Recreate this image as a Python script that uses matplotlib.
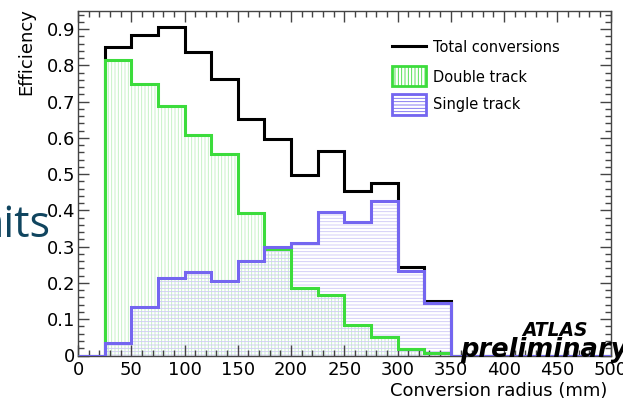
import matplotlib
matplotlib.use("Agg")
import matplotlib.pyplot as plt
from matplotlib.patches import Rectangle
from matplotlib.lines import Line2D
from matplotlib.ticker import MultipleLocator, FuncFormatter
import numpy as np

# binning of the conversion radius (mm)
edges = np.arange(0, 525, 25)

# efficiencies per radius bin
total = [0.0, 0.85, 0.884, 0.905, 0.836, 0.763, 0.653, 0.598, 0.497, 0.563,
         0.453, 0.475, 0.243, 0.151, 0.0, 0.0, 0.0, 0.0, 0.0, 0.0]
double_trk = [0.0, 0.816, 0.749, 0.689, 0.607, 0.555, 0.393, 0.295, 0.185, 0.166,
              0.084, 0.052, 0.018, 0.006, 0.0, 0.0, 0.0, 0.0, 0.0, 0.0]
single_trk = [0.0, 0.034, 0.133, 0.215, 0.229, 0.206, 0.261, 0.299, 0.311, 0.396,
              0.368, 0.425, 0.233, 0.145, 0.0, 0.0, 0.0, 0.0, 0.0, 0.0]

green = "#3cdc3c"
green_h = "#bff0bf"
blue = "#7466f0"
blue_h = "#cdc6f6"

W, H = 623, 401
plt.rcParams["font.family"] = "DejaVu Sans"
plt.rcParams["hatch.linewidth"] = 0.6

fig = plt.figure(figsize=(W / 100, H / 100), dpi=100)
ax = fig.add_axes([78 / W, 45.5 / H, 532.5 / W, 344.5 / H])

# hatched fills
ax.stairs(double_trk, edges, fill=True, facecolor="none", edgecolor=green_h,
          hatch="|||||", linewidth=0, zorder=1)
ax.stairs(single_trk, edges, fill=True, facecolor="none", edgecolor=blue_h,
          hatch="-----", linewidth=0, zorder=1)

# outlines
ax.stairs(total, edges, color="black", linewidth=2.2, zorder=3)
ax.stairs(double_trk, edges, color=green, linewidth=2.2, zorder=4)
ax.stairs(single_trk, edges, color=blue, linewidth=2.2, zorder=5)

ax.set_xlim(0, 500)
ax.set_ylim(0, 0.95)
ax.xaxis.set_major_locator(MultipleLocator(50))
ax.xaxis.set_minor_locator(MultipleLocator(10))
ax.yaxis.set_major_locator(MultipleLocator(0.1))
ax.yaxis.set_minor_locator(MultipleLocator(0.02))
ax.yaxis.set_major_formatter(FuncFormatter(lambda v, p: "0" if abs(v) < 1e-9 else f"{v:.1f}"))

ax.tick_params(which="both", direction="in", top=True, right=True,
               labelsize=13, color="#444444", width=1.0)
ax.tick_params(which="major", length=8)
ax.tick_params(which="minor", length=4)
ax.tick_params(axis="y", pad=2)
ax.tick_params(axis="x", pad=4)
for s in ax.spines.values():
    s.set_color("#444444")
    s.set_linewidth(1.0)

# axis titles
fig.text(26 / W, 1 - 8 / H, "Efficiency", rotation=90, ha="center", va="top", fontsize=13)
fig.text(607 / W, 5 / H, "Conversion radius (mm)", ha="right", va="baseline", fontsize=13)

# legend
def px(x, y):
    return x / W, 1 - y / H

lx0, lx1 = 392, 426
fig.add_artist(Line2D([lx0 / W, lx1 / W], [1 - 46 / H] * 2, color="black", lw=2.2))
fig.add_artist(Rectangle(px(lx0, 86), (lx1 - lx0) / W, 20 / H, facecolor="none",
                         edgecolor=green, hatch="|||||", lw=2))
fig.add_artist(Rectangle(px(lx0, 115), (lx1 - lx0) / W, 21 / H, facecolor="none",
                         edgecolor=blue, hatch="-----", lw=2))
fig.text(*px(433, 47), "Total conversions", ha="left", va="center", fontsize=10.5)
fig.text(*px(433, 77), "Double track", ha="left", va="center", fontsize=10.5)
fig.text(*px(433, 104), "Single track", ha="left", va="center", fontsize=10.5)

# experiment label
fig.text(*px(588, 336), "ATLAS", ha="right", va="baseline", fontsize=13.5,
         fontweight="bold", fontstyle="italic", zorder=10)
fig.text(*px(460, 357), "preliminary", ha="left", va="baseline", fontsize=18.5,
         fontweight="bold", fontstyle="italic", zorder=10)

# leftover slide title fragment
fig.text(*px(50, 237), "nits", ha="right", va="baseline", fontsize=31,
         family="Open Sans", color="#10455f", zorder=10)

fig.savefig("out.png", dpi=100)
